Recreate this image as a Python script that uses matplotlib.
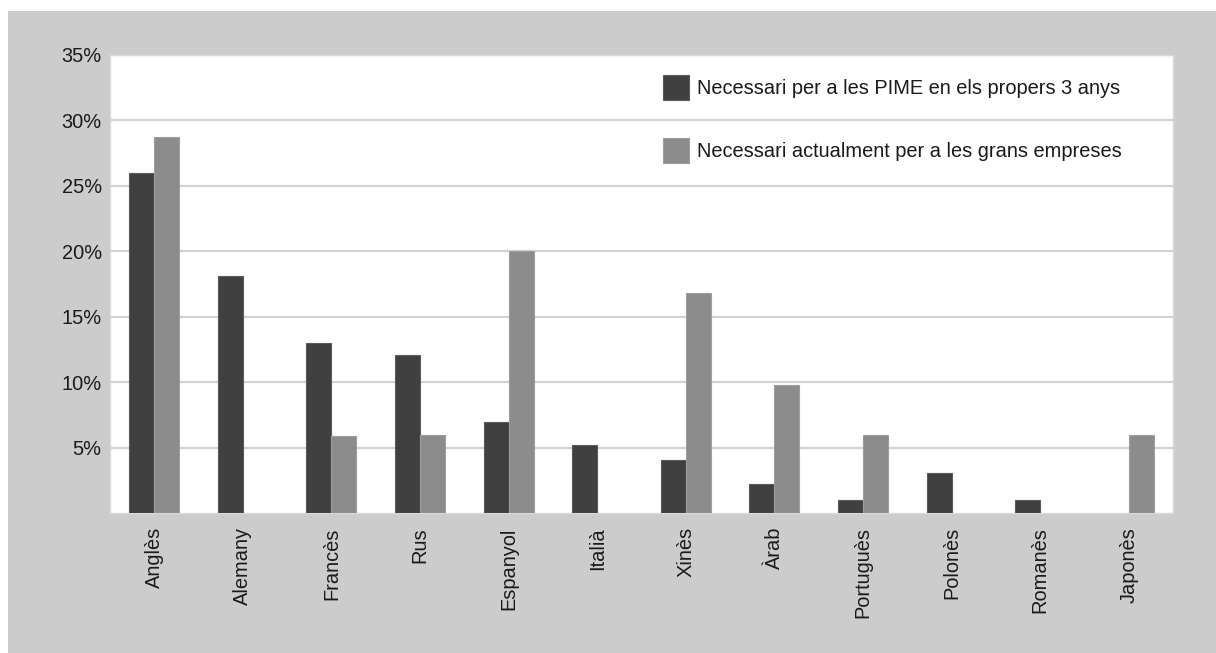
import numpy as np
import matplotlib.pyplot as plt
from matplotlib.patches import Rectangle

plt.rcParams['font.family'] = ['Liberation Sans', 'DejaVu Sans']

idiomes = ["Anglès", "Alemany", "Francès", "Rus", "Espanyol", "Italià",
           "Xinès", "Àrab", "Portuguès", "Polonès", "Romanès", "Japonès"]
pime_3anys = [26.0, 18.1, 13.0, 12.1, 7.0, 5.2, 4.1, 2.2, 1.0, 3.1, 1.0, 0.0]
grans_empreses = [28.7, 0.0, 5.9, 6.0, 20.0, 0.0, 16.8, 9.8, 6.0, 0.0, 0.0, 6.0]
yticks = [5, 10, 15, 20, 25, 30, 35]

fig = plt.figure(figsize=(12.16, 6.53), dpi=100, facecolor='white')
# grey panel behind the chart
fig.patches.append(Rectangle((8 / 1216, 0), 1, 1 - 11 / 653,
                             transform=fig.transFigure, facecolor='#cccccc',
                             edgecolor='none', zorder=-1))

ax = fig.add_axes([110 / 1216, 1 - 513.3 / 653, 1063 / 1216, (513.3 - 54.7) / 653])
ax.set_facecolor('white')

x = np.arange(len(idiomes))
w = 0.282
# empty categories get no bar at all (no stray edge on the baseline)
h1 = np.where(np.array(pime_3anys) > 0, pime_3anys, np.nan)
h2 = np.where(np.array(grans_empreses) > 0, grans_empreses, np.nan)
ax.bar(x - w / 2, h1, w, color='#404040', edgecolor='#5a5a5a',
       linewidth=0.8, zorder=3, label="Necessari per a les PIME en els propers 3 anys")
ax.bar(x + w / 2, h2, w, color='#8c8c8c', edgecolor='#9e9e9e',
       linewidth=0.8, zorder=3, label="Necessari actualment per a les grans empreses")

ax.set_xlim(-0.5, len(idiomes) - 0.5)
ax.set_ylim(0, 35)
ax.set_yticks(yticks)
ax.set_yticklabels([f"{v}%" for v in yticks])
ax.yaxis.grid(True, color='#d2d2d2', linewidth=1.6, zorder=0)
ax.set_axisbelow(True)

ax.set_xticks(x)
ax.set_xticklabels(idiomes, rotation=90, va='top', ha='center')
ax.tick_params(axis='both', length=0, labelsize=14.4, colors='#1a1a1a')
ax.tick_params(axis='x', pad=10)
ax.tick_params(axis='y', pad=6)

for s in ax.spines.values():
    s.set_color('#dadada')
    s.set_linewidth(1.0)

leg = ax.legend(loc='upper left', bbox_to_anchor=(0.5202, 0.9557), frameon=False,
                fontsize=14.4, handlelength=1.3, handleheight=1.55,
                handletextpad=0.4, labelspacing=1.9, borderpad=0, borderaxespad=0)
for t in leg.get_texts():
    t.set_color('#1a1a1a')

fig.savefig("out.png", dpi=100, facecolor=fig.get_facecolor())
